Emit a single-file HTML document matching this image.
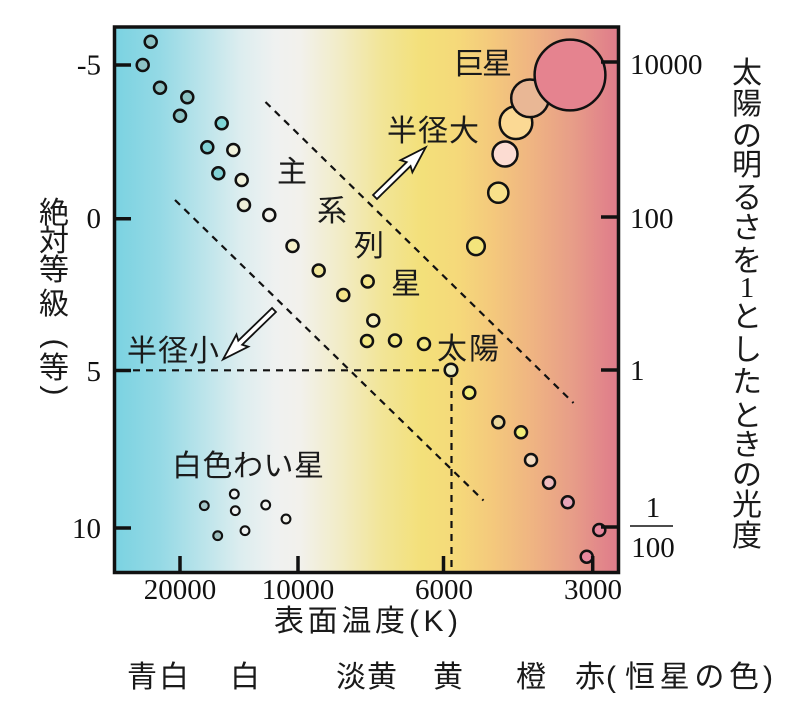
<!DOCTYPE html>
<html><head><meta charset="utf-8"><style>
html,body{margin:0;padding:0;background:#fff;}
svg{display:block;}
.j{font-family:"Liberation Sans","Noto Sans CJK JP",sans-serif;fill:#1a1a1a;}
.n{font-family:"Liberation Serif",serif;fill:#111;}
</style></head><body>
<svg width="800" height="728" viewBox="0 0 800 728" xmlns="http://www.w3.org/2000/svg">
<defs>
<linearGradient id="bg" gradientUnits="userSpaceOnUse" x1="114" y1="0" x2="618" y2="0">
<stop offset="0" stop-color="#7ad2e1"/>
<stop offset="0.09" stop-color="#94d9e5"/>
<stop offset="0.17" stop-color="#b8e3ea"/>
<stop offset="0.25" stop-color="#dcedef"/>
<stop offset="0.32" stop-color="#eff1f0"/>
<stop offset="0.37" stop-color="#f2f1ec"/>
<stop offset="0.45" stop-color="#f2ecc6"/>
<stop offset="0.53" stop-color="#f2e598"/>
<stop offset="0.61" stop-color="#f3e07a"/>
<stop offset="0.68" stop-color="#f5d97a"/>
<stop offset="0.75" stop-color="#f4c97c"/>
<stop offset="0.83" stop-color="#efb482"/>
<stop offset="0.91" stop-color="#e79d88"/>
<stop offset="1" stop-color="#df7b8b"/>
</linearGradient>
</defs>

<rect x="114" y="27" width="504" height="545" fill="url(#bg)"/>

<!-- dashed lines -->
<g stroke="#111" stroke-width="2.2" fill="none" stroke-dasharray="7 6">
<line x1="265.5" y1="102" x2="573.5" y2="403"/>
<line x1="175" y1="200" x2="483.5" y2="500.5"/>
<line x1="133" y1="370.3" x2="444" y2="370.3"/>
<line x1="451.5" y1="378" x2="451.5" y2="572"/>
</g>

<!-- arrows -->
<path transform="translate(375,197) rotate(-44.4)" d="M0,-2.8 L47,-2.8 L44,-8.5 L71,0 L44,8.5 L47,2.8 L0,2.8 Z" fill="#fff" stroke="#111" stroke-width="1.8" stroke-linejoin="miter"/>
<path transform="translate(274,310) rotate(135.9)" d="M0,-2.8 L47,-2.8 L44,-8.5 L71,0 L44,8.5 L47,2.8 L0,2.8 Z" fill="#fff" stroke="#111" stroke-width="1.8" stroke-linejoin="miter"/>

<!-- main sequence -->
<g stroke="#111" stroke-width="2.5">
<circle cx="150.7" cy="41.7" r="6" fill="#8cc3c5"/>
<circle cx="142.7" cy="65" r="6" fill="#8cc3c5"/>
<circle cx="160" cy="87.7" r="6" fill="#8cc3c5"/>
<circle cx="187.3" cy="97.3" r="6" fill="#8cc3c5"/>
<circle cx="180" cy="115.7" r="6" fill="#8cc3c5"/>
<circle cx="221.7" cy="123.3" r="6" fill="#7fd6d8"/>
<circle cx="207.3" cy="147.3" r="6" fill="#82d2d6"/>
<circle cx="233.3" cy="150" r="6" fill="#f2f3dd"/>
<circle cx="218.3" cy="173.3" r="6" fill="#82d2d6"/>
<circle cx="241.7" cy="180" r="6" fill="#f2f3dd"/>
<circle cx="244" cy="205" r="6" fill="#f0f0d8"/>
<circle cx="269.3" cy="215" r="6" fill="#f4f4ee"/>
<circle cx="292.5" cy="246" r="6" fill="#f5f0c8"/>
<circle cx="318.7" cy="270.5" r="6" fill="#f1e79a"/>
<circle cx="343.3" cy="295" r="6" fill="#f3e68a"/>
<circle cx="367.7" cy="281.5" r="6" fill="#f4e68a"/>
<circle cx="373.3" cy="320.5" r="6" fill="#f7f0c0"/>
<circle cx="367" cy="341" r="6" fill="#f5ea85"/>
<circle cx="395" cy="340.5" r="6" fill="#f5ea85"/>
<circle cx="424" cy="344" r="6" fill="#f5ea85"/>
<circle cx="451" cy="370" r="6.3" fill="#eeecc0"/>
<circle cx="469.3" cy="392.7" r="6" fill="#f3ef7a"/>
<circle cx="498.3" cy="422.3" r="6" fill="#ecd89c"/>
<circle cx="521" cy="432.3" r="6" fill="#f2ee78"/>
<circle cx="531" cy="460" r="6" fill="#f4dcc2"/>
<circle cx="549" cy="482.7" r="6" fill="#eebcbf"/>
<circle cx="567.7" cy="502.3" r="6" fill="#e8a6b8"/>
<circle cx="599.3" cy="530" r="6" fill="#e8889e"/>
<circle cx="586.7" cy="556.7" r="6" fill="#e8889e"/>
</g>

<!-- giants -->
<g stroke="#111" stroke-width="2.5">
<circle cx="476" cy="246.3" r="8.8" fill="#f3e47c"/>
<circle cx="498.3" cy="192.7" r="10.1" fill="#f8e08a"/>
<circle cx="505" cy="154" r="12.5" fill="#fcdcd2"/>
<circle cx="516" cy="122.7" r="16.3" fill="#fbd994"/>
<circle cx="530" cy="98.3" r="18.8" fill="#e9b795"/>
<circle cx="570" cy="75" r="35.4" fill="#e5838f"/>
</g>

<!-- white dwarfs -->
<g stroke="#111" stroke-width="2.1">
<circle cx="204.3" cy="505.7" r="4.4" fill="#a4c6c8"/>
<circle cx="234.3" cy="494" r="4.4" fill="#eef3f3"/>
<circle cx="235.3" cy="510.7" r="4.4" fill="#eef3f3"/>
<circle cx="265.7" cy="505" r="4.4" fill="#f2f3f0"/>
<circle cx="286" cy="519" r="4.4" fill="#f2f2ea"/>
<circle cx="217.7" cy="535.7" r="4.4" fill="#9cbcbc"/>
<circle cx="245" cy="530.7" r="4.4" fill="#eef2f2"/>
</g>

<!-- frame and ticks -->
<rect x="114.5" y="27" width="504" height="545.5" fill="none" stroke="#111" stroke-width="3.5"/>
<g stroke="#111" stroke-width="3.5">
<line x1="114" y1="65" x2="131" y2="65"/>
<line x1="114" y1="218.7" x2="131" y2="218.7"/>
<line x1="114" y1="370.5" x2="131" y2="370.5"/>
<line x1="114" y1="528" x2="131" y2="528"/>
<line x1="601" y1="62" x2="618" y2="62"/>
<line x1="601" y1="217" x2="618" y2="217"/>
<line x1="601" y1="370" x2="618" y2="370"/>
<line x1="601" y1="527" x2="618" y2="527"/>
<line x1="180" y1="556" x2="180" y2="572"/>
<line x1="298" y1="556" x2="298" y2="572"/>
<line x1="443.5" y1="556" x2="443.5" y2="572"/>
<line x1="592.7" y1="556" x2="592.7" y2="572"/>
</g>

<!-- left tick labels -->
<g class="n" font-size="29" text-anchor="end">
<text x="101" y="74.5">-5</text>
<text x="101" y="228">0</text>
<text x="101" y="381">5</text>
<text x="101" y="538">10</text>
</g>
<!-- right tick labels -->
<g class="n" font-size="29">
<text x="630" y="74">10000</text>
<text x="630" y="228">100</text>
<text x="630" y="380">1</text>
<text x="653" y="517" text-anchor="middle">1</text>
<text x="653" y="557" text-anchor="middle">100</text>
</g>
<line x1="630" y1="526" x2="673" y2="526" stroke="#111" stroke-width="1.5"/>
<!-- bottom tick labels -->
<g class="n" font-size="29" text-anchor="middle">
<text x="180" y="599">20000</text>
<text x="298" y="599">10000</text>
<text x="444" y="599">6000</text>
<text x="593" y="599">3000</text>
</g>

<!-- in-plot labels -->
<g class="j" font-size="30">
<text x="454" y="74" textLength="58" lengthAdjust="spacing">巨星</text>
<text x="387" y="141" textLength="92" lengthAdjust="spacing">半径大</text>
<text x="277" y="182">主</text>
<text x="317" y="221">系</text>
<text x="354" y="256">列</text>
<text x="391" y="294">星</text>
<text x="437" y="359" textLength="62" lengthAdjust="spacing">太陽</text>
<text x="127" y="361" textLength="92" lengthAdjust="spacing">半径小</text>
<text x="172" y="476" textLength="152" lengthAdjust="spacing">白色わい星</text>
</g>

<!-- x-axis title -->
<g class="j" font-size="30">
<text x="274" y="631" textLength="131" lengthAdjust="spacing">表面温度</text>
<text x="409" y="631" textLength="49" lengthAdjust="spacing">(K)</text>
</g>

<!-- color row -->
<g class="j" font-size="30">
<text x="127" y="687" textLength="62" lengthAdjust="spacing">青白</text>
<text x="230" y="687">白</text>
<text x="336" y="687" textLength="61" lengthAdjust="spacing">淡黄</text>
<text x="433" y="687">黄</text>
<text x="516" y="687">橙</text>
<text x="575" y="687">赤</text>
<text x="606" y="687">(</text>
<text x="625" y="687" textLength="134" lengthAdjust="spacing">恒星の色</text>
<text x="763" y="687">)</text>
</g>

<!-- left vertical title -->
<g class="j" font-size="30" text-anchor="middle">
<text x="54" y="223">絶</text>
<text x="54" y="251">対</text>
<text x="54" y="280">等</text>
<text x="54" y="314">級</text>
<text x="54" y="378">等</text>
<text transform="translate(46,343.5) rotate(90)">(</text>
<text transform="translate(46,390.5) rotate(90)">)</text>
</g>

<!-- right vertical title -->
<g class="j" font-size="30" text-anchor="middle">
<text x="747" y="83">太</text>
<text x="747" y="114">陽</text>
<text x="747" y="146">の</text>
<text x="747" y="175">明</text>
<text x="747" y="208">る</text>
<text x="747" y="238">さ</text>
<text x="747" y="271">を</text>
<text x="747" y="327">と</text>
<text x="747" y="360">し</text>
<text x="747" y="392">た</text>
<text x="747" y="426">と</text>
<text x="747" y="455">き</text>
<text x="747" y="485">の</text>
<text x="747" y="515">光</text>
<text x="747" y="546">度</text>
</g>
<text class="n" x="747" y="297" font-size="29" text-anchor="middle">1</text>
</svg>
</body></html>
